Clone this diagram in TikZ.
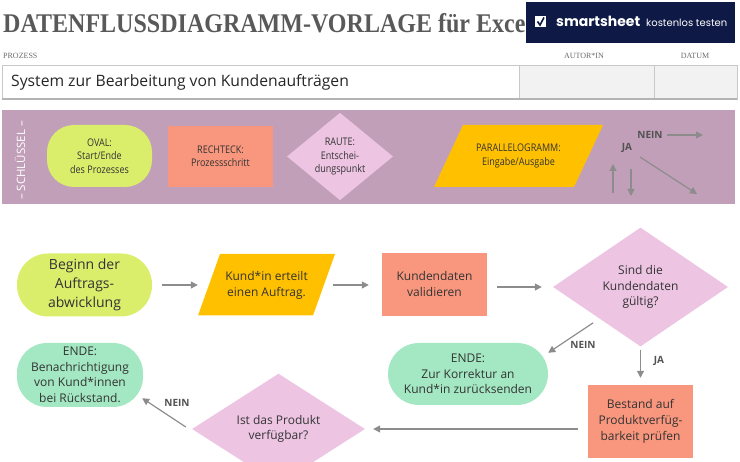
\documentclass[tikz,border=0pt]{standalone}
\usepackage{fontspec}
\setmainfont{Open Sans}
\newfontfamily\titlefont{Liberation Serif}
\newfontfamily\condfont{Open Sans}[FakeStretch=0.86]
\newfontfamily\logofont{Poppins}
\usetikzlibrary{shapes.geometric,arrows.meta,backgrounds}
\definecolor{limec}{HTML}{DAEE6C}
\definecolor{salmonc}{HTML}{F9977E}
\definecolor{pinkc}{HTML}{EDC5E3}
\definecolor{goldc}{HTML}{FFC000}
\definecolor{mintc}{HTML}{A3E8C3}
\definecolor{keyband}{HTML}{C29FB8}
\definecolor{arrowgray}{HTML}{8C8C8C}
\definecolor{txtc}{HTML}{333333}
\definecolor{navyc}{HTML}{0E1A45}
\definecolor{titlegray}{HTML}{595959}
\definecolor{cellgray}{HTML}{F2F2F2}
\definecolor{linegray}{HTML}{C8C8C8}
\begin{document}
\begin{tikzpicture}[x=1pt,y=-1pt,
  every node/.style={text=txtc, align=center, inner sep=0pt},
  body/.style={font=\fontsize{12}{16}\selectfont},
  keytxt/.style={font=\condfont\fontsize{10.5}{13.5}\selectfont},
  ovalbox/.style={fill=limec, rounded corners=#1},
  endbox/.style={fill=mintc, rounded corners=#1},
  procbox/.style={fill=salmonc},
  decbox/.style={diamond, fill=pinkc},
  iobox/.style={rectangle},
  arr/.style={draw=arrowgray, line width=1.2pt, -{Triangle[length=7pt,width=7pt]}},
  lab/.style={font=\bfseries\fontsize{10}{12}\selectfont, text=txtc!85}
]
\useasboundingbox (0,0) rectangle (740,462);

% ---------- header ----------
\node[anchor=base west, text=titlegray, font=\titlefont\bfseries\fontsize{27}{30}\selectfont] (title) at (3,33)
  {\scalebox{0.89}[1]{DATENFLUSSDIAGRAMM-VORLAGE für Excel}};
\node[fill=navyc, minimum width=209pt, minimum height=41pt, anchor=north west] (logo) at (526,2) {};
\fill[white] (535,16) rectangle (546,27);
\draw[navyc, line width=1.6pt] (537.5,21.5) -- (540,25) -- (544,17.5);
\node[anchor=base west, text=white, font=\logofont\bfseries\fontsize{14}{16}\selectfont] (logo1) at (556,27) {smartsheet};
\node[anchor=base west, text=white, font=\logofont\fontsize{10}{11}\selectfont] (logo2) at (646,27) {kostenlos testen};

\node[anchor=base west, text=titlegray!90, font=\titlefont\fontsize{8}{9}\selectfont] (lproz) at (3,59) {PROZESS};
\node[anchor=base, text=titlegray!90, font=\titlefont\fontsize{8}{9}\selectfont] (lautor) at (584,59) {AUTOR*IN};
\node[anchor=base, text=titlegray!90, font=\titlefont\fontsize{8}{9}\selectfont] (ldatum) at (695,59) {DATUM};

\fill[cellgray] (519,65) rectangle (737,99);
\draw[linegray, line width=0.8pt] (2,65) rectangle (737,99);
\draw[linegray, line width=0.8pt] (519,65) -- (519,99) (654,65) -- (654,99);
\draw[linegray!90!black, line width=1.4pt] (2,99) -- (737,99);
\node[anchor=west, text=black!85, font=\fontsize{15.7}{18}\selectfont] (proc) at (11,82) {System zur Bearbeitung von Kundenaufträgen};

% ---------- key ----------
\fill[keyband] (2,110) rectangle (735,204);
\node[rotate=90, text=white, font=\fontsize{11.5}{13}\selectfont] (skey) at (20,160.5) {– SCHLÜSSEL –};

\node[ovalbox=27pt, minimum width=105pt, minimum height=62pt, keytxt] (koval) at (99.5,156) {OVAL:\\Start/Ende\\des Prozesses};
\node[procbox, minimum width=105pt, minimum height=61pt, keytxt] (krect) at (220.5,156.5) {RECHTECK:\\Prozessschritt};
\node[decbox, minimum width=106pt, minimum height=87pt, keytxt] (kraute) at (340,156.5) {RAUTE:\\Entschei-\\dungspunkt};
\fill[goldc] (434,187) -- (574,187) -- (603,125) -- (463,125) -- cycle;
\node[iobox, minimum width=140pt, minimum height=62pt, keytxt] (kpara) at (518.5,156) {PARALLELOGRAMM:\\Eingabe/Ausgabe};

\node[lab] (knein) at (650,135) {NEIN};
\node[lab] (kja) at (627,148) {JA};
\coordinate (kn1) at (667,135);
\coordinate (kn2) at (703,135);
\draw[arr] (kn1) -- (kn2);
\coordinate (ku1) at (613,193);
\coordinate (ku2) at (613,164);
\draw[arr] (ku1) -- (ku2);
\coordinate (kd1) at (631,169);
\coordinate (kd2) at (631,196);
\draw[arr] (kd1) -- (kd2);
\coordinate (kg1) at (640,157);
\coordinate (kg2) at (697,194);
\draw[arr] (kg1) -- (kg2);

% ---------- main flow ----------
\node[ovalbox=31pt, minimum width=135pt, minimum height=63pt, font=\fontsize{14}{19}\selectfont] (beginn) at (84.5,285) {Beginn der\\Auftrags-\\abwicklung};
\fill[goldc] (198,315.5) -- (313,315.5) -- (335,254) -- (220,254) -- cycle;
\node[iobox, minimum width=115pt, minimum height=61pt, body] (kund) at (266.5,285) {Kund*in erteilt\\einen Auftrag.};
\node[procbox, minimum width=105pt, minimum height=63pt, body] (valid) at (434.5,284.5) {Kundendaten\\validieren};
\node[decbox, minimum width=175pt, minimum height=104pt, body, font=\fontsize{12}{15.5}\selectfont] (sind) at (640.5,287) {Sind die\\Kundendaten\\gültig?};
\node[endbox=31pt, minimum width=160pt, minimum height=62pt, body, font=\fontsize{12}{15.5}\selectfont] (korr) at (468,374) {ENDE:\\Zur Korrektur an\\Kund*in zurücksenden};
\node[procbox, minimum width=105pt, minimum height=73pt, body] (bestand) at (640.5,421.5) {Bestand auf\\Produktverfüg-\\barkeit prüfen};
\node[decbox, minimum width=173pt, minimum height=104pt, body, font=\fontsize{12}{15}\selectfont] (ist) at (278.5,429) {Ist das Produkt\\verfügbar?};
\node[endbox=30pt, minimum width=126pt, minimum height=64pt, body, font=\fontsize{12}{15.5}\selectfont] (bnach) at (80,375) {ENDE:\\Benachrichtigung\\von Kund*innen\\bei Rückstand.};

\draw[arr, shorten <=10pt, shorten >=11pt] (beginn.east |- kund.west) -- (kund.west);
\draw[arr, shorten <=9pt, shorten >=13pt] (kund.east) -- (valid.west |- kund.east);
\draw[arr, shorten <=10pt, shorten >=11pt] (valid.east |- sind.west) -- (sind.west);
\draw[arr] ([shift={(-3.5,6)}]sind.south west) -- ([shift={(0,10)}]korr.north east);
\node[lab] (nein1) at (583,345) {NEIN};
\draw[arr, shorten <=3pt, shorten >=7pt] (sind.south) -- (bestand.north);
\node[lab] (ja1) at (659,361) {JA};
\draw[arr, shorten <=10pt, shorten >=8pt] (bestand.west |- ist.east) -- (ist.east);
\draw[arr] ([shift={(-6,-2)}]ist.west) -- ([shift={(-1,-9)}]bnach.south east);
\node[lab] (nein2) at (177,403) {NEIN};
\end{tikzpicture}
\end{document}
